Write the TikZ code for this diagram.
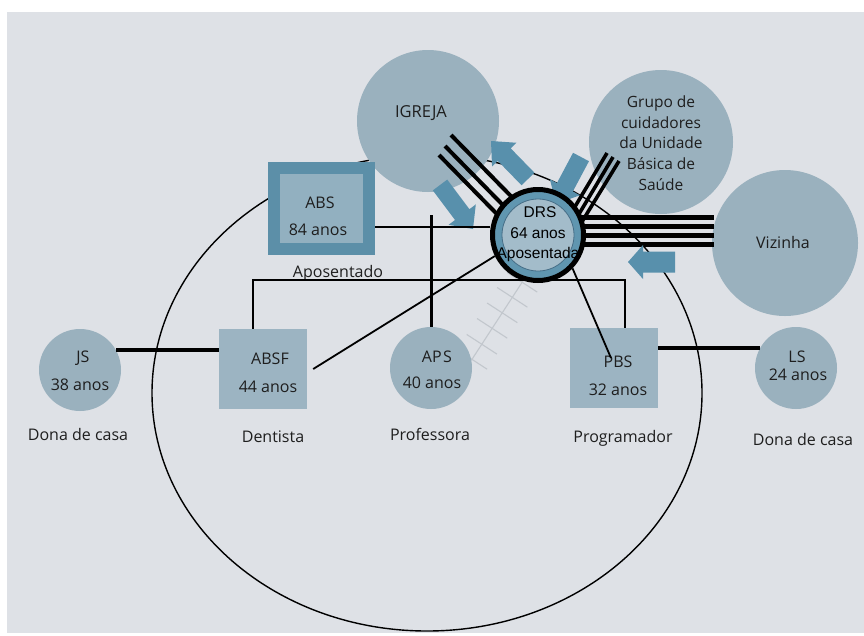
\documentclass[tikz,border=0pt]{standalone}
\usepackage{fontspec}
\setmainfont{Open Sans}
\newfontfamily\arialf{Liberation Sans}
\usetikzlibrary{calc}
\pgfdeclarelayer{back}
\pgfsetlayers{back,main}
\definecolor{bgc}{RGB}{222,225,230}
\definecolor{nodec}{RGB}{154,177,190}
\definecolor{boxc}{RGB}{156,180,194}
\definecolor{absout}{RGB}{92,143,168}
\definecolor{absin}{RGB}{146,176,192}
\definecolor{arrowc}{RGB}{88,144,172}
\definecolor{ringc}{RGB}{96,150,176}
\definecolor{drsin}{RGB}{163,188,202}
\definecolor{drsline}{RGB}{70,110,135}
\definecolor{hatchc}{RGB}{194,199,205}
\definecolor{txtc}{RGB}{30,30,30}
\newcommand{\blockarrow}[5]{%
  \coordinate (hb) at ($(#2)!#5!(#1)$);
  \fill[arrowc] ($(#1)!#3!90:(#2)$) -- ($(hb)!#3!-90:(#1)$) -- ($(hb)!#4!-90:(#1)$) -- (#2)
    -- ($(hb)!#4!90:(#1)$) -- ($(hb)!#3!90:(#1)$) -- ($(#1)!#3!-90:(#2)$) -- cycle;}
\begin{document}
\begin{tikzpicture}[x=1pt,y=-1pt,
  circ/.style={circle, fill=nodec, draw=none, inner sep=0pt},
  sqbox/.style={rectangle, fill=boxc, draw=none, inner sep=0pt},
  txt/.style={font=\fontsize{16}{19}\selectfont, text=txtc, inner sep=0pt, text height=11pt, text depth=0pt},
  drstxt/.style={font=\arialf\fontsize{15.5}{18}\selectfont, text=black, inner sep=0pt, text height=11pt, text depth=0pt},
  multiline/.style={line width=4pt, black},
  link/.style={line width=2.6pt, black},
  thinlink/.style={line width=1.8pt, black},
  hatch/.style={line width=1.1pt, hatchc}]
\useasboundingbox (0,0) rectangle (864,635);
\begin{pgfonlayer}{back}
  \fill[white] (0,0) rectangle (864,635);
  \fill[bgc] (7,12) rectangle (864,633);
  \draw[line width=1.4pt] (427,393) ellipse [x radius=275pt, y radius=238pt];
\end{pgfonlayer}
% big circles
\node[circ, minimum size=142pt] (igreja) at (428,121) {};
\node[txt, font=\fontsize{16.5}{19}\selectfont] (tigreja) at (421,112) {IGREJA};
\node[circ, minimum size=144pt] (grupo) at (661,142) {};
\node[font=\fontsize{15.5}{20.7}\selectfont, text=txtc, inner sep=0pt, align=center] (tgrupo) at (661,143) {Grupo de\\cuidadores\\da Unidade\\Básica de\\Saúde};
\node[circ, minimum size=146pt] (vizinha) at (785,243) {};
\node[txt] (tvizinha) at (783,243) {Vizinha};
% multiple lines
\foreach \i/\sx/\sy/\ex/\ey in {1/451/135/517.5/202.8, 2/445/146/511.5/213.8, 3/439/155/505.5/222.8}{
  \coordinate (ig\i s) at (\sx,\sy);
  \coordinate (ig\i e) at (\ex,\ey);
  \draw[multiline] (ig\i s) -- (ig\i e);
}
\foreach \i/\sx/\sy/\ex/\ey in {1/607/153/570/215, 2/613/157/576/219, 3/619/161/580/225}{
  \coordinate (gr\i s) at (\sx,\sy);
  \coordinate (gr\i e) at (\ex,\ey);
  \draw[multiline, line width=3.6pt] (gr\i s) -- (gr\i e);
}
\foreach \i/\y in {1/217, 2/226, 3/235, 4/244}{
  \coordinate (vz\i s) at (560,\y);
  \coordinate (vz\i e) at (714,\y);
  \draw[multiline, line width=5pt] (vz\i s) -- (vz\i e);
}
% block arrows
\coordinate (a1s) at (440,185); \coordinate (a1t) at (473,229);
\coordinate (a2s) at (528,179); \coordinate (a2t) at (491,141);
\coordinate (a3s) at (581,157); \coordinate (a3t) at (556,204);
\coordinate (a4s) at (675,262); \coordinate (a4t) at (628,262);
\blockarrow{a1s}{a1t}{9pt}{17pt}{18pt}
\blockarrow{a2s}{a2t}{9pt}{17pt}{19pt}
\blockarrow{a3s}{a3t}{9pt}{17pt}{19pt}
\blockarrow{a4s}{a4t}{10.5pt}{17pt}{15pt}
% DRS
\node[circle, minimum size=91pt, inner sep=0pt, fill=ringc, draw=black, line width=5pt] (drs) at (538,235) {};
\node[circle, minimum size=72pt, inner sep=0pt, fill=drsin, draw=drsline, line width=0.8pt] (drsi) at (538,235) {};
\node[drstxt] (tdrs1) at (540,212) {DRS};
\node[drstxt] (tdrs2) at (538,233) {64 anos};
\node[drstxt] (tdrs3) at (538,253) {Aposentada};
% ABS
\node[rectangle, minimum width=95pt, minimum height=81pt, inner sep=0pt, fill=absin, draw=absout, line width=12pt] (abs) at (321.5,208.5) {};
\node[txt] (tabs1) at (320,203) {ABS};
\node[txt] (tabs2) at (318,230) {84 anos};
\node[txt] (tabs3) at (338,272) {Aposentado};
% family
\node[circ, minimum size=82pt] (js) at (80,370) {};
\node[txt] (tjs1) at (83,357) {JS};
\node[txt] (tjs2) at (80,385) {38 anos};
\node[txt] (tjs3) at (78,435) {Dona de casa};
\node[sqbox, minimum width=88pt, minimum height=80pt] (absf) at (263,369) {};
\node[txt] (tabsf1) at (270,359) {ABSF};
\node[txt] (tabsf2) at (268,387) {44 anos};
\node[txt] (tabsf3) at (273,437) {Dentista};
\node[circ, minimum size=82pt] (aps) at (431,368) {};
\node[txt] (taps1) at (437,357) {AP\kern1.5pt S};
\node[txt] (taps2) at (432,383) {40 anos};
\node[txt] (taps3) at (430,435) {Professora};
\node[sqbox, minimum width=88pt, minimum height=80pt] (pbs) at (614,368) {};
\node[txt] (tpbs1) at (618,362) {PBS};
\node[txt] (tpbs2) at (618,390) {32 anos};
\node[txt] (tpbs3) at (623,437) {Programador};
\node[circ, minimum size=82pt] (ls) at (796,368) {};
\node[txt] (tls1) at (797,357) {LS};
\node[txt] (tls2) at (798,375) {24 anos};
\node[txt] (tls3) at (803,440) {Dona de casa};
% connectors
\coordinate (apstop) at (431,215);
\coordinate (sib) at (440,280);
\coordinate (pbsend) at (611,358);
\draw[link] (abs.-19) -- (abs.-19 -| drs.west);
\draw[link, line width=3pt] (apstop) -- (aps.north);
\draw[link] ([xshift=-10pt]absf.north) |- (sib) -| ([xshift=11pt]pbs.north);
\draw[thinlink] ([xshift=6pt]absf.east) -- (drs.206);
\draw[thinlink] (drs.-44) -- (pbsend);
\draw[link, line width=3.6pt] (js.29) -- (js.29 -| absf.west);
\draw[link, line width=3.6pt] (ls.151) -- (ls.151 -| pbs.east);
\begin{pgfonlayer}{back}
  \draw[hatch] (drs.252) -- (aps.11);
  \foreach \t in {0.02,0.21,0.405,0.6,0.8,0.99}{
    \coordinate (hm) at ($(drs.252)!\t!(aps.11)$);
    \draw[hatch] ($(hm)!18pt!90:(aps.11)$) -- ($(hm)!18pt!-90:(aps.11)$);
  }
\end{pgfonlayer}
\end{tikzpicture}
\end{document}
